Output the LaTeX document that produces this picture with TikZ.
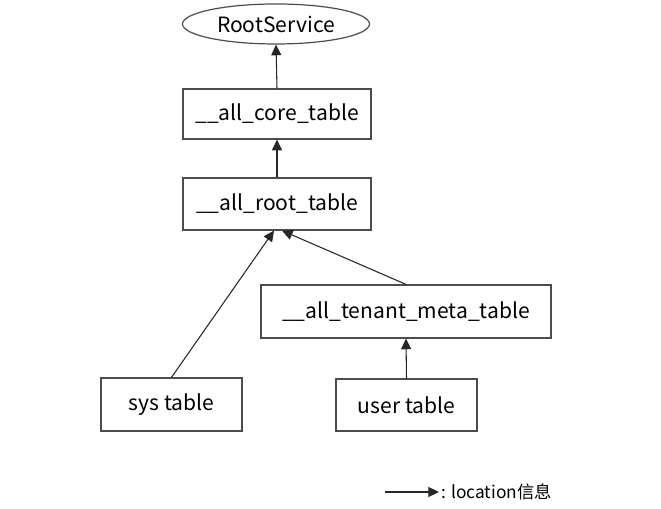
\documentclass[tikz,border=0pt]{standalone}
\usepackage{fontspec}
\setmainfont{Noto Sans CJK SC}
\usetikzlibrary{arrows.meta,shapes.geometric}
\begin{document}
\begin{tikzpicture}[x=0.75pt,y=-0.75pt,
  tbox/.style={draw=black!70,line width=0.9pt,inner sep=0pt,font=\fontsize{15.8}{18}\selectfont},
  link/.style={draw=black!85,line width=0.8pt,-{Triangle[length=8pt,width=7.5pt]}}]
\useasboundingbox (0,0) rectangle (661,509);
\node[tbox,ellipse,minimum width=187*0.75pt,minimum height=40*0.75pt] (rs) at (276,24) {RootService};
\node[tbox,minimum width=188*0.75pt,minimum height=50*0.75pt] (core) at (277,114) {\_\_all\_core\_table};
\node[tbox,minimum width=188*0.75pt,minimum height=52*0.75pt] (root) at (277,204) {\_\_all\_root\_table};
\node[tbox,minimum width=290*0.75pt,minimum height=53*0.75pt] (meta) at (406,311.5) {\_\_all\_tenant\_meta\_table};
\node[tbox,minimum width=141*0.75pt,minimum height=53*0.75pt] (sys) at (171.5,404.5) {sys table};
\node[tbox,minimum width=141*0.75pt,minimum height=52*0.75pt] (user) at (406.5,405) {user table};
\draw[link] (core.north) -- (rs.south);
\draw[link] (root.north) -- (core.south);
\draw[link] (sys.north) -- ([xshift=-3*0.75pt]root.south);
\draw[link] (meta.north) -- ([xshift=5*0.75pt]root.south);
\draw[link] (user.north) -- (meta.south);
\coordinate (l1) at (385,492);
\node[anchor=west,inner sep=0pt,font=\fontsize{13}{15}\selectfont] (leg) at (441,492) {: location信息};
\draw[link] (l1) -- ([xshift=-2*0.75pt]leg.west);
\end{tikzpicture}
\end{document}
